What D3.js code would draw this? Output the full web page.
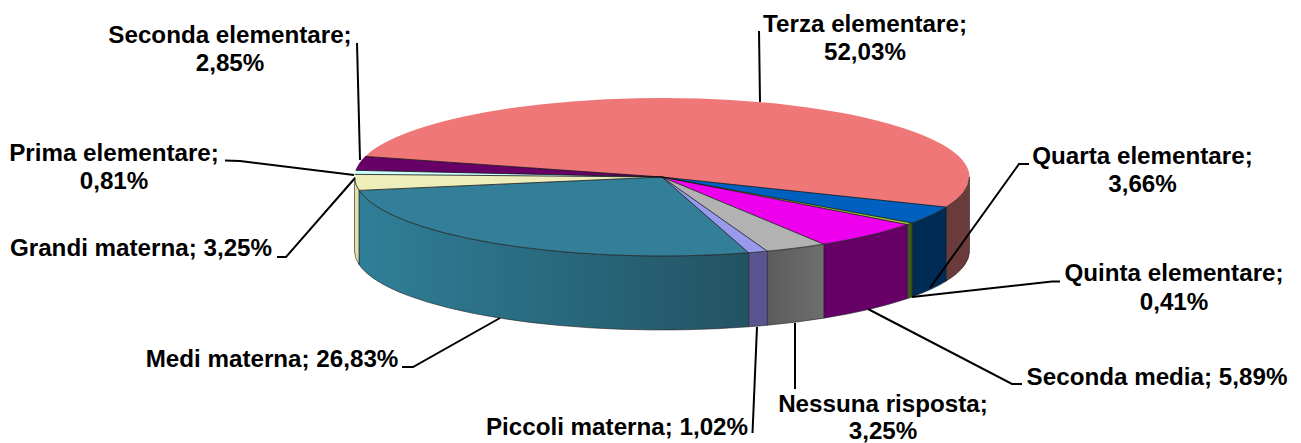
<!DOCTYPE html>
<html><head><meta charset="utf-8">
<script src="https://cdn.jsdelivr.net/npm/d3@7/dist/d3.min.js"></script>
<style>html,body{margin:0;padding:0;background:#fff;overflow:hidden}svg{display:block}text{font-family:"Liberation Sans",Arial,sans-serif;font-weight:bold;font-size:24.2px;fill:#000}</style>
</head><body><svg id="c" width="1301" height="443"></svg>
<script>
const categories = ["Terza elementare","Quarta elementare","Quinta elementare","Seconda media","Nessuna risposta","Piccoli materna","Medi materna","Grandi materna","Prima elementare","Seconda elementare"];
const values = [52.03,3.66,0.41,5.89,3.25,1.02,26.83,3.25,0.81,2.85];
const valueLabels = ["52,03%","3,66%","0,41%","5,89%","3,25%","1,02%","26,83%","3,25%","0,81%","2,85%"];
const topColors = ["#ef7777","#0060bf","#99cc33","#ee00ee","#b2b2b2","#9999ee","#337f99","#eeeebb","#ccffff","#660066"];
const sideLeft  = ["#6b3a3a","#002b55","#3f5a1a","#660066","#5c5c5c","#5a5590","#2f7f98","#e2dfa8","#99cccc","#400040"];
const sideRight = ["#6b3a3a","#002b55","#3f5a1a","#660066","#6e6e6e","#5a5590","#235363","#e2dfa8","#99cccc","#400040"];

const layout = [
 {twoLines:true, x:865,y:31.5,gap:28,leader:[[760,102],[759,31]]},
 {twoLines:true, x:1142.5,y:163.5,gap:28.5,leader:[[930,288],[1019,164],[1029,164]]},
 {twoLines:true, x:1174,y:281,gap:29,leader:[[912,297],[1052,281.5],[1060,281.5]]},
 {twoLines:false,x:1157,y:384.5,gap:0,leader:[[868,309],[1012,384],[1022,384]]},
 {twoLines:true, x:883,y:412,gap:27,leader:[[795,323],[795,389]]},
 {twoLines:false,x:617,y:435,gap:0,leader:[[757,327],[752.5,433]]},
 {twoLines:false,x:272,y:367,gap:0,leader:[[500,318],[413,367],[402,367]]},
 {twoLines:false,x:141,y:256,gap:0,leader:[[355,178],[286,257],[277,257]]},
 {twoLines:true, x:114,y:161,gap:28,leader:[[354,175],[240,161],[225,160.5]]},
 {twoLines:true, x:230,y:42.5,gap:28.5,leader:[[360,160],[357,43]]}
];

const cx=662, cy=177, rx=307.5, ry=79, depth=74;
const startDeg=-164.9;
const svg=d3.select("#c");
const defs=svg.append("defs");
const pie=d3.pie().sort(null).value(d=>d).startAngle(0).endAngle(2*Math.PI);
const angle=d3.scaleLinear().domain([0,2*Math.PI]).range([startDeg*Math.PI/180,(startDeg+360)*Math.PI/180]);
const px=a=>cx+rx*Math.cos(a), py=a=>cy+ry*Math.sin(a);
const arcs=pie(values).map((d,i)=>({i,a0:angle(d.startAngle),a1:angle(d.endAngle)}));
function rim(a0,a1){
  const large=(a1-a0)>Math.PI?1:0;
  return `A${rx},${ry} 0 ${large} 1 ${px(a1)},${py(a1)}`;
}
arcs.forEach(d=>{
  const s=Math.max(d.a0,0), e=Math.min(d.a1,Math.PI);
  if(e<=s) return;
  const id="g"+d.i;
  const lg=defs.append("linearGradient").attr("id",id).attr("gradientUnits","userSpaceOnUse")
    .attr("x1",px(e)).attr("x2",px(s)).attr("y1",0).attr("y2",0);
  lg.append("stop").attr("offset",0).attr("stop-color",sideLeft[d.i]);
  lg.append("stop").attr("offset",1).attr("stop-color",sideRight[d.i]);
  const p=`M${px(s)},${py(s)}${rim(s,e)}L${px(e)},${py(e)+depth}A${rx},${ry} 0 0 0 ${px(s)},${py(s)+depth}Z`;
  svg.append("path").attr("d",p).attr("fill",`url(#${id})`).attr("stroke","#222").attr("stroke-width",0.6);
});
svg.append("g").selectAll("path").data(arcs).join("path")
  .attr("d",d=>`M${cx},${cy}L${px(d.a0)},${py(d.a0)}${rim(d.a0,d.a1)}Z`)
  .attr("fill",d=>topColors[d.i]);
svg.append("g").selectAll("path").data(arcs).join("path")
  .attr("d",d=>`M${cx},${cy}L${px(d.a0)},${py(d.a0)}`)
  .attr("fill","none").attr("stroke","#111").attr("stroke-width",0.8);
const frontArc=`M${px(0)},${py(0)}${rim(0,Math.PI)}`;
svg.append("path").attr("d",frontArc).attr("fill","none").attr("stroke","#222").attr("stroke-width",0.7);
const line=d3.line();
svg.append("g").selectAll("path").data(layout).join("path")
  .attr("d",d=>line(d.leader)).attr("fill","none").attr("stroke","#000").attr("stroke-width",2);
const t=svg.append("g").selectAll("text").data(layout).join("text")
  .attr("x",d=>d.x).attr("y",d=>d.y).attr("text-anchor","middle");
t.selectAll("tspan").data((d,i)=>{
    const name=categories[i]+";", val=valueLabels[i];
    return d.twoLines?[{l:name,x:d.x,dy:0},{l:val,x:d.x,dy:d.gap}]:[{l:name+" "+val,x:d.x,dy:0}];
  }).join("tspan").attr("x",d=>d.x).attr("dy",d=>d.dy).text(d=>d.l);
</script></body></html>
